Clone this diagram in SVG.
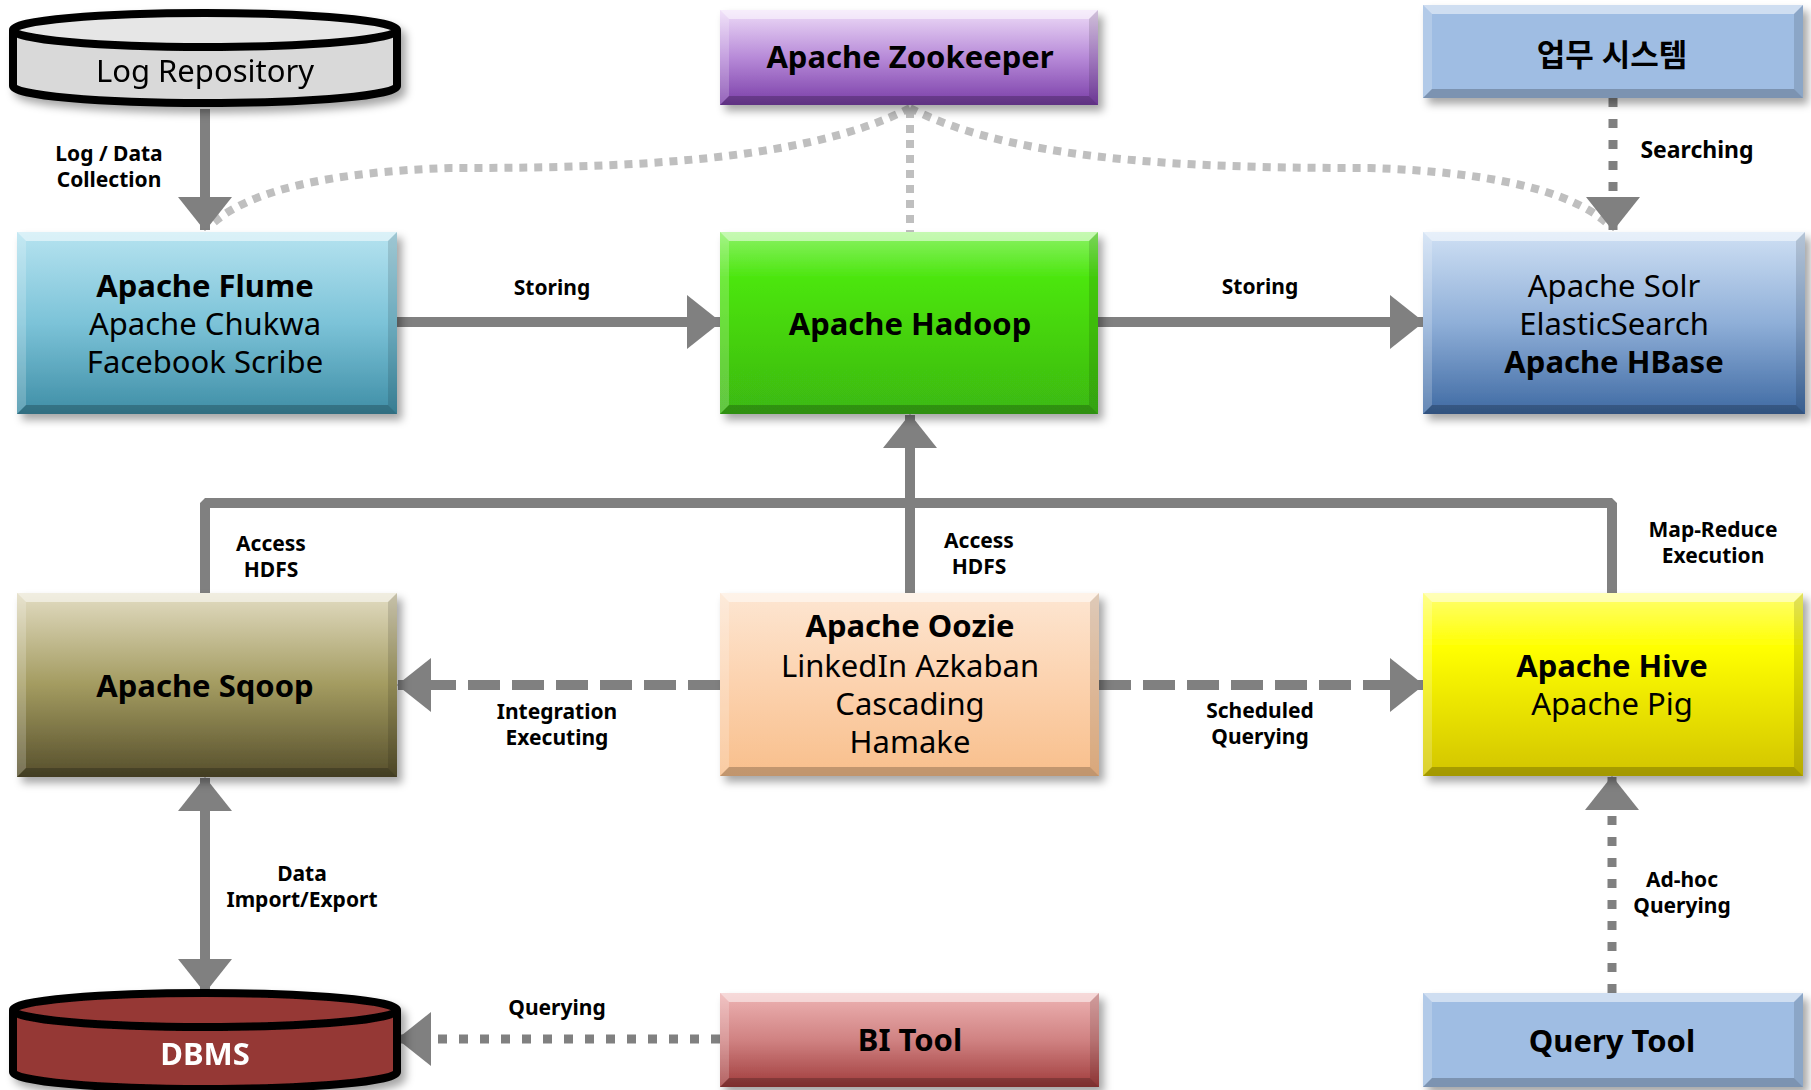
<svg xmlns="http://www.w3.org/2000/svg" width="1811" height="1090" viewBox="0 0 1811 1090">
<style>
text{font-family:"Noto Sans","Noto Sans CJK KR",sans-serif;fill:#000;text-anchor:middle}
.t{font-size:31px}
.b{font-weight:bold}
.n{font-weight:normal}
.lbl{font-size:21px;font-weight:bold}
.bt{fill:#fff;opacity:.5}
.bl{fill:#fff;opacity:.2}
.br{fill:#000;opacity:.12}
.bb{fill:#000;opacity:.22}
.solid{fill:none;stroke:#808080;stroke-width:10}
.dot{fill:none;stroke:#808080;stroke-width:9;stroke-dasharray:9 12}
.dash{fill:none;stroke:#808080;stroke-width:10;stroke-dasharray:32 12}
.zk{fill:none;stroke:#bfbfbf;stroke-width:8;stroke-dasharray:8 7}
.cyl{stroke:#000;stroke-width:8}
</style>
<defs>
<filter id="sh" x="-10%" y="-10%" width="125%" height="135%">
<feDropShadow dx="5" dy="6" stdDeviation="4" flood-color="#000" flood-opacity="0.35"/>
</filter>
<marker id="ah" markerUnits="userSpaceOnUse" viewBox="0 0 34 54" markerWidth="34" markerHeight="54" refX="33" refY="27" orient="auto-start-reverse">
<path d="M0,0 L34,27 L0,54 Z" fill="#808080"/>
</marker>
<linearGradient id="gFlume" x1="0" y1="0" x2="0" y2="1"><stop offset="0" stop-color="#b6e3f0"/><stop offset="0.5" stop-color="#7cc3d8"/><stop offset="1" stop-color="#3f8ea6"/></linearGradient>
<linearGradient id="gZk" x1="0" y1="0" x2="0" y2="1"><stop offset="0" stop-color="#eedcf8"/><stop offset="0.5" stop-color="#b78ad8"/><stop offset="1" stop-color="#7a3ea8"/></linearGradient>
<linearGradient id="gHad" x1="0" y1="0" x2="0" y2="1"><stop offset="0" stop-color="#8cf266"/><stop offset="0.25" stop-color="#4ce60f"/><stop offset="1" stop-color="#3cb812"/></linearGradient>
<linearGradient id="gSolr" x1="0" y1="0" x2="0" y2="1"><stop offset="0" stop-color="#cfe0f4"/><stop offset="0.5" stop-color="#8fafd8"/><stop offset="1" stop-color="#3f6aa3"/></linearGradient>
<linearGradient id="gSq" x1="0" y1="0" x2="0" y2="1"><stop offset="0" stop-color="#e2dcc2"/><stop offset="0.5" stop-color="#a39b60"/><stop offset="1" stop-color="#564f2c"/></linearGradient>
<linearGradient id="gOoz" x1="0" y1="0" x2="0" y2="1"><stop offset="0" stop-color="#fde6d2"/><stop offset="0.5" stop-color="#fcd2ae"/><stop offset="1" stop-color="#f8bf8c"/></linearGradient>
<linearGradient id="gHive" x1="0" y1="0" x2="0" y2="1"><stop offset="0" stop-color="#ffff70"/><stop offset="0.3" stop-color="#ffff00"/><stop offset="1" stop-color="#d2c400"/></linearGradient>
<linearGradient id="gBI" x1="0" y1="0" x2="0" y2="1"><stop offset="0" stop-color="#eeb4b4"/><stop offset="0.5" stop-color="#d08282"/><stop offset="1" stop-color="#a03c3c"/></linearGradient>
</defs>
<rect width="1811" height="1090" fill="#fff"/>

<g id="connectors">
<path class="zk" d="M910,108 C800,165 600,168 450,168 C330,172 250,190 212,224"/>
<path class="zk" d="M910,108 C1020,165 1220,168 1370,168 C1490,172 1570,190 1608,224"/>
<path class="zk" d="M910,110 V232"/>
<path class="solid" d="M205,109 V230" marker-end="url(#ah)"/>
<path class="dot" d="M1613,98 V230" marker-end="url(#ah)"/>
<path class="solid" d="M397,322 H720" marker-end="url(#ah)"/>
<path class="solid" d="M1098,322 H1423" marker-end="url(#ah)"/>
<path class="solid" d="M205,593 V503 H1612 V593" stroke-linejoin="bevel"/>
<path class="solid" d="M910,593 V415" marker-end="url(#ah)"/>
<path class="dash" d="M720,685 H398" marker-end="url(#ah)"/>
<path class="dash" d="M1099,685 H1423" marker-end="url(#ah)"/>
<path class="solid" d="M205,778 V992" marker-start="url(#ah)" marker-end="url(#ah)"/>
<path class="dot" d="M1612,993 V777" marker-end="url(#ah)"/>
<path class="dot" d="M720,1039 H398" marker-end="url(#ah)"/>
<text class="lbl" x="109" y="161">Log / Data<tspan x="109" dy="26">Collection</tspan></text>
<text class="lbl" x="1697" y="158" style="font-size:23px">Searching</text>
<text class="lbl" x="552" y="295">Storing</text>
<text class="lbl" x="1260" y="294">Storing</text>
<text class="lbl" x="271" y="551">Access<tspan x="271" dy="26">HDFS</tspan></text>
<text class="lbl" x="979" y="548">Access<tspan x="979" dy="26">HDFS</tspan></text>
<text class="lbl" x="1713" y="537">Map-Reduce<tspan x="1713" dy="26">Execution</tspan></text>
<text class="lbl" x="557" y="719">Integration<tspan x="557" dy="26">Executing</tspan></text>
<text class="lbl" x="1260" y="718">Scheduled<tspan x="1260" dy="26">Querying</tspan></text>
<text class="lbl" x="302" y="881">Data<tspan x="302" dy="26">Import/Export</tspan></text>
<text class="lbl" x="1682" y="887">Ad-hoc<tspan x="1682" dy="26">Querying</tspan></text>
<text class="lbl" x="557" y="1015">Querying</text>
</g>

<g id="log-repository" filter="url(#sh)">
<path class="cyl" fill="#d9d9d9" d="M13,30 V86 A192,17 0 0 0 397,86 V30"/>
<ellipse class="cyl" cx="205" cy="30" rx="192" ry="17" fill="#e6e6e6"/>
<text class="t" x="205" y="82" style="font-size:31px">Log Repository</text>
</g>

<g id="dbms" filter="url(#sh)">
<path class="cyl" fill="#953735" d="M13,1010 V1072 A192,17 0 0 0 397,1072 V1010"/>
<ellipse class="cyl" cx="205" cy="1010" rx="192" ry="17" fill="#963836"/>
<text class="t b" x="205" y="1065" style="fill:#fff">DBMS</text>
</g>

<g id="zookeeper">
<rect x="720" y="10" width="378" height="95" fill="url(#gZk)" filter="url(#sh)"/>
<path class="bt" d="M720,10 H1098 L1089,19 H729 Z"/><path class="bl" d="M720,10 L729,19 V96 L720,105 Z"/><path class="br" d="M1098,10 V105 L1089,96 V19 Z"/><path class="bb" d="M720,105 L729,96 H1089 L1098,105 Z"/>
<text class="t b" x="910" y="68">Apache Zookeeper</text>
</g>

<g id="business-system">
<rect x="1423" y="5" width="380" height="93" fill="#9fbde3" filter="url(#sh)"/>
<path class="bt" d="M1423,5 H1803 L1794,14 H1432 Z"/><path class="bl" d="M1423,5 L1432,14 V89 L1423,98 Z"/><path class="br" d="M1803,5 V98 L1794,89 V14 Z"/><path class="bb" d="M1423,98 L1432,89 H1794 L1803,98 Z"/>
<text class="t b" x="1612" y="66">업무 시스템</text>
</g>

<g id="flume">
<rect x="17" y="232" width="380" height="182" fill="url(#gFlume)" filter="url(#sh)"/>
<path class="bt" d="M17,232 H397 L388,241 H26 Z"/><path class="bl" d="M17,232 L26,241 V405 L17,414 Z"/><path class="br" d="M397,232 V414 L388,405 V241 Z"/><path class="bb" d="M17,414 L26,405 H388 L397,414 Z"/>
<text class="t b" x="205" y="297">Apache Flume<tspan class="n" x="205" dy="38">Apache Chukwa</tspan><tspan class="n" x="205" dy="38">Facebook Scribe</tspan></text>
</g>

<g id="hadoop">
<rect x="720" y="232" width="378" height="182" fill="url(#gHad)" filter="url(#sh)"/>
<path class="bt" d="M720,232 H1098 L1089,241 H729 Z"/><path class="bl" d="M720,232 L729,241 V405 L720,414 Z"/><path class="br" d="M1098,232 V414 L1089,405 V241 Z"/><path class="bb" d="M720,414 L729,405 H1089 L1098,414 Z"/>
<text class="t b" x="910" y="335">Apache Hadoop</text>
</g>

<g id="solr">
<rect x="1423" y="232" width="382" height="182" fill="url(#gSolr)" filter="url(#sh)"/>
<path class="bt" d="M1423,232 H1805 L1796,241 H1432 Z"/><path class="bl" d="M1423,232 L1432,241 V405 L1423,414 Z"/><path class="br" d="M1805,232 V414 L1796,405 V241 Z"/><path class="bb" d="M1423,414 L1432,405 H1796 L1805,414 Z"/>
<text class="t" x="1614" y="297">Apache Solr<tspan x="1614" dy="38">ElasticSearch</tspan><tspan class="b" x="1614" dy="38">Apache HBase</tspan></text>
</g>

<g id="sqoop">
<rect x="17" y="593" width="380" height="184" fill="url(#gSq)" filter="url(#sh)"/>
<path class="bt" d="M17,593 H397 L388,602 H26 Z"/><path class="bl" d="M17,593 L26,602 V768 L17,777 Z"/><path class="br" d="M397,593 V777 L388,768 V602 Z"/><path class="bb" d="M17,777 L26,768 H388 L397,777 Z"/>
<text class="t b" x="205" y="697">Apache Sqoop</text>
</g>

<g id="oozie">
<rect x="720" y="593" width="379" height="183" fill="url(#gOoz)" filter="url(#sh)"/>
<path class="bt" d="M720,593 H1099 L1090,602 H729 Z"/><path class="bl" d="M720,593 L729,602 V767 L720,776 Z"/><path class="br" d="M1099,593 V776 L1090,767 V602 Z"/><path class="bb" d="M720,776 L729,767 H1090 L1099,776 Z"/>
<text class="t b" x="910" y="637">Apache Oozie<tspan class="n" x="910" dy="40">LinkedIn Azkaban</tspan><tspan class="n" x="910" dy="38">Cascading</tspan><tspan class="n" x="910" dy="38">Hamake</tspan></text>
</g>

<g id="hive">
<rect x="1423" y="593" width="380" height="183" fill="url(#gHive)" filter="url(#sh)"/>
<path class="bt" d="M1423,593 H1803 L1794,602 H1432 Z"/><path class="bl" d="M1423,593 L1432,602 V767 L1423,776 Z"/><path class="br" d="M1803,593 V776 L1794,767 V602 Z"/><path class="bb" d="M1423,776 L1432,767 H1794 L1803,776 Z"/>
<text class="t b" x="1612" y="677">Apache Hive<tspan class="n" x="1612" dy="38">Apache Pig</tspan></text>
</g>

<g id="bi-tool">
<rect x="720" y="993" width="379" height="94" fill="url(#gBI)" filter="url(#sh)"/>
<path class="bt" d="M720,993 H1099 L1090,1002 H729 Z"/><path class="bl" d="M720,993 L729,1002 V1078 L720,1087 Z"/><path class="br" d="M1099,993 V1087 L1090,1078 V1002 Z"/><path class="bb" d="M720,1087 L729,1078 H1090 L1099,1087 Z"/>
<text class="t b" x="910" y="1051">BI Tool</text>
</g>

<g id="query-tool">
<rect x="1423" y="993" width="380" height="94" fill="#9fbde3" filter="url(#sh)"/>
<path class="bt" d="M1423,993 H1803 L1794,1002 H1432 Z"/><path class="bl" d="M1423,993 L1432,1002 V1078 L1423,1087 Z"/><path class="br" d="M1803,993 V1087 L1794,1078 V1002 Z"/><path class="bb" d="M1423,1087 L1432,1078 H1794 L1803,1087 Z"/>
<text class="t b" x="1612" y="1052">Query Tool</text>
</g>
</svg>
